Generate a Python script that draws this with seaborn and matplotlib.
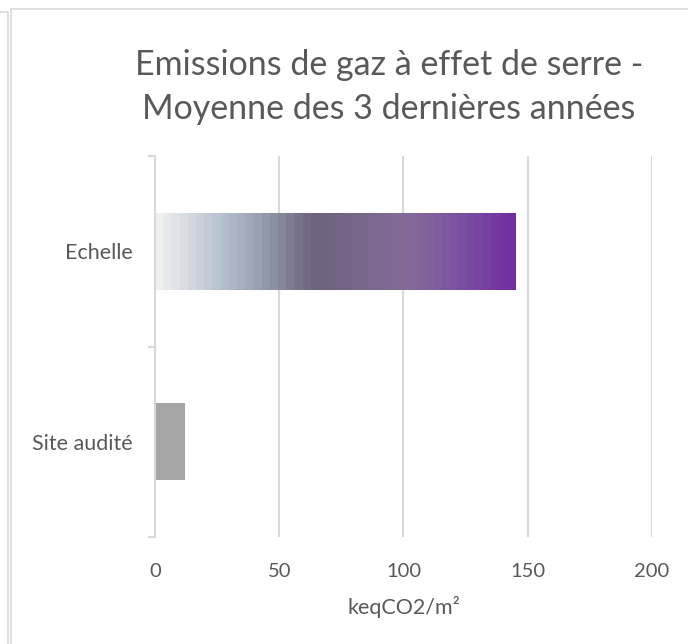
import numpy as np
import pandas as pd
import matplotlib
matplotlib.use("Agg")
import matplotlib.pyplot as plt
import seaborn as sns
from matplotlib.colors import LinearSegmentedColormap, ListedColormap
from matplotlib.lines import Line2D

# ---- data ----
categories = ["Echelle", "Site audité"]
values = [145, 12]
x_ticks = [0, 50, 100, 150, 200]
title_lines = ["Emissions de gaz à effet de serre -", "Moyenne des 3 dernières années"]
x_label = "keqCO2/m²"

# ---- style ----
TEXT = "#595959"
GRID = "#D9D9D9"
SITE_COLOR = "#A5A5A5"
grad_stops = [
    (0.00, "#EFEFEF"), (0.055, "#DDE0E5"), (0.125, "#C8CED8"), (0.18, "#B5C0CE"),
    (0.235, "#A6B0C0"), (0.31, "#9096A8"), (0.375, "#7E7C92"), (0.44, "#6D6280"),
    (0.56, "#776789"), (0.70, "#856B9A"), (0.82, "#7E58A0"), (1.00, "#7030A0"),
]
n_bands = 44

sns.set_theme(style="white")
plt.rcParams["font.family"] = ["Lato", "DejaVu Sans"]

W, H = 688, 644
fig = plt.figure(figsize=(W / 100, H / 100), dpi=100)
ax = fig.add_axes([155 / W, 1 - 537 / H, (652 - 155) / W, (537 - 156) / H])

df = pd.DataFrame({"category": categories, "value": values})
sns.barplot(data=df, x="value", y="category", hue="category",
            palette=["#7030A0", SITE_COLOR], orient="h", width=0.405,
            legend=False, ax=ax, linewidth=0, saturation=1)

ax.set_xlim(x_ticks[0], x_ticks[-1])
ax.set_ylim(len(categories) - 0.5, -0.5)

# gradient fill for Echelle bar
cmap = LinearSegmentedColormap.from_list("g", grad_stops)
band_cmap = ListedColormap(cmap(np.linspace(0, 1, n_bands)))
for p in ax.patches:
    cy = p.get_y() + p.get_height() / 2
    if abs(cy - 0) < 0.3:
        x0, y0 = p.get_x(), p.get_y()
        x1, y1 = x0 + p.get_width(), y0 + p.get_height()
        p.set_facecolor("none")
        im = ax.imshow(np.arange(n_bands)[None, :], cmap=band_cmap, aspect="auto",
                       extent=[x0, x1, y1, y0], interpolation="nearest", zorder=p.get_zorder())
        im.set_clip_path(p)
ax.set_xlim(x_ticks[0], x_ticks[-1])
ax.set_ylim(len(categories) - 0.5, -0.5)

# axes styling
ax.set_xticks(x_ticks)
ax.xaxis.grid(True, color=GRID, linewidth=1.5)
ax.yaxis.grid(False)
ax.set_axisbelow(True)
for s in ["top", "right", "bottom"]:
    ax.spines[s].set_visible(False)
ax.spines["left"].set_color(GRID)
ax.spines["left"].set_linewidth(1.5)
ax.tick_params(axis="x", length=0, pad=18.5, labelsize=14.5, labelcolor=TEXT)
ax.tick_params(axis="y", which="major", length=0, pad=16, labelsize=15.5, labelcolor=TEXT)
ax.set_yticks(np.arange(-0.5, len(categories), 1.0), minor=True)
ax.tick_params(axis="y", which="minor", length=5, width=1.5, color=GRID, left=True)
ax.set_ylabel("")
ax.set_xlabel(x_label, fontsize=15.5, color=TEXT, labelpad=12)

fig.text(389 / W, 1 - 87 / H, "\n".join(title_lines), ha="center", va="center",
         fontsize=24.5, color=TEXT, linespacing=1.45, fontweight="normal")

# chart frames
def fline(xs, ys):
    fig.add_artist(Line2D([x / W for x in xs], [1 - y / H for y in ys],
                          transform=fig.transFigure, color=GRID, linewidth=1.2))
fline([11, 11, W], [H, 9, 9])
fline([0, 8, 8], [12, 12, H])

fig.savefig("out.png", dpi=100)
